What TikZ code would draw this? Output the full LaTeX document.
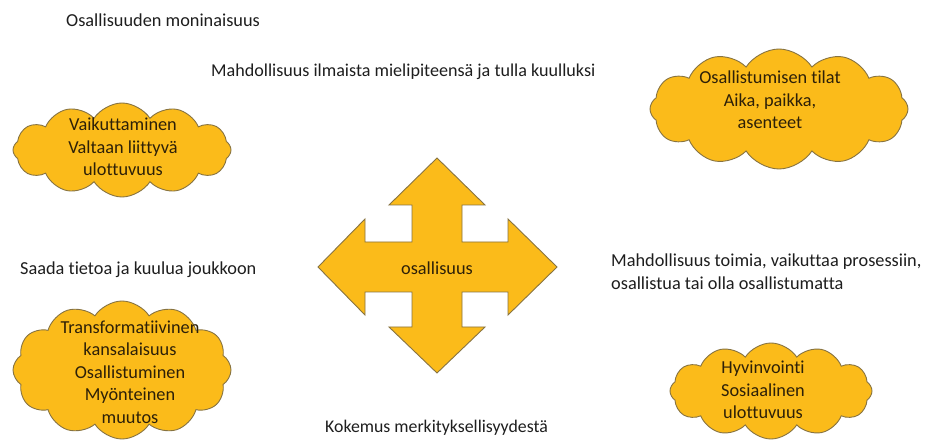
\documentclass[tikz,border=0pt]{standalone}
\usepackage{fontspec}
\setmainfont[Ligatures=CommonOff]{Carlito}
\usetikzlibrary{shapes.symbols}
\definecolor{gold}{RGB}{251,187,26}
\definecolor{rim}{RGB}{135,115,65}
\definecolor{ink}{RGB}{45,32,8}
\definecolor{txt}{RGB}{30,30,30}
\tikzset{
  cl/.style={cloud, cloud puffs=12, cloud puff arc=115, cloud ignores aspect, fill=gold, draw=rim, line width=0.9bp, inner sep=0pt},
  ctext/.style={align=center, text=ink, font=\fontsize{18.3bp}{22.5bp}\selectfont, inner sep=0pt},
  plain/.style={text=txt, font=\fontsize{18.3bp}{23bp}\selectfont, inner sep=0pt, anchor=west}
}
\begin{document}
\begin{tikzpicture}[x=1bp,y=-1bp]
\useasboundingbox[fill=white] (0,0) rectangle (929,441);
% arrow
\draw[fill=gold, draw=rim, line width=0.9bp, line join=miter]
 (318,267) -- (365,219) -- (365,242) -- (412,242) -- (412,205) -- (389,205) -- (437,158)
 -- (485,205) -- (462,205) -- (462,242) -- (508,242) -- (508,219) -- (557,267)
 -- (508,315) -- (508,292) -- (462,292) -- (462,327) -- (485,327) -- (437,373)
 -- (389,327) -- (412,327) -- (412,292) -- (365,292) -- (365,315) -- cycle;
\node[ctext] (center) at (437,268) {osallisuus};
% clouds
\node[cl, minimum width=218bp, minimum height=94bp] (c1) at (122,150) {};
\node[ctext] (t1) at (123,147) {Vaikuttaminen\\Valtaan liittyvä\\ulottuvuus};
\node[cl, minimum width=258bp, minimum height=120bp] (c2) at (779,109) {};
\node[ctext] (t2) at (770,100) {Osallistumisen tilat\\Aika, paikka,\\asenteet};
\node[cl, minimum width=218bp, minimum height=138bp] (c3) at (122,370) {};
\node[ctext] (t3) at (130,372) {Transformatiivinen\\kansalaisuus\\Osallistuminen\\Myönteinen\\muutos};
\node[cl, minimum width=202bp, minimum height=96bp] (c4) at (771,391) {};
\node[ctext] (t4) at (763,390) {Hyvinvointi\\Sosiaalinen\\ulottuvuus};
% plain texts
\node[plain] (h) at (66,20) {Osallisuuden moninaisuus};
\node[plain, font=\fontsize{18.1bp}{23bp}\selectfont] (top) at (211,72) {Mahdollisuus ilmaista mielipiteensä ja tulla kuulluksi};
\node[plain] (left) at (20,270) {Saada tietoa ja kuulua joukkoon};
\node[plain, align=left] (right) at (611,271.5) {Mahdollisuus toimia, vaikuttaa prosessiin,\\osallistua tai olla osallistumatta};
\node[plain, font=\fontsize{17.8bp}{20bp}\selectfont] (bottom) at (325,428) {Kokemus merkityksellisyydestä};
\end{tikzpicture}
\end{document}
